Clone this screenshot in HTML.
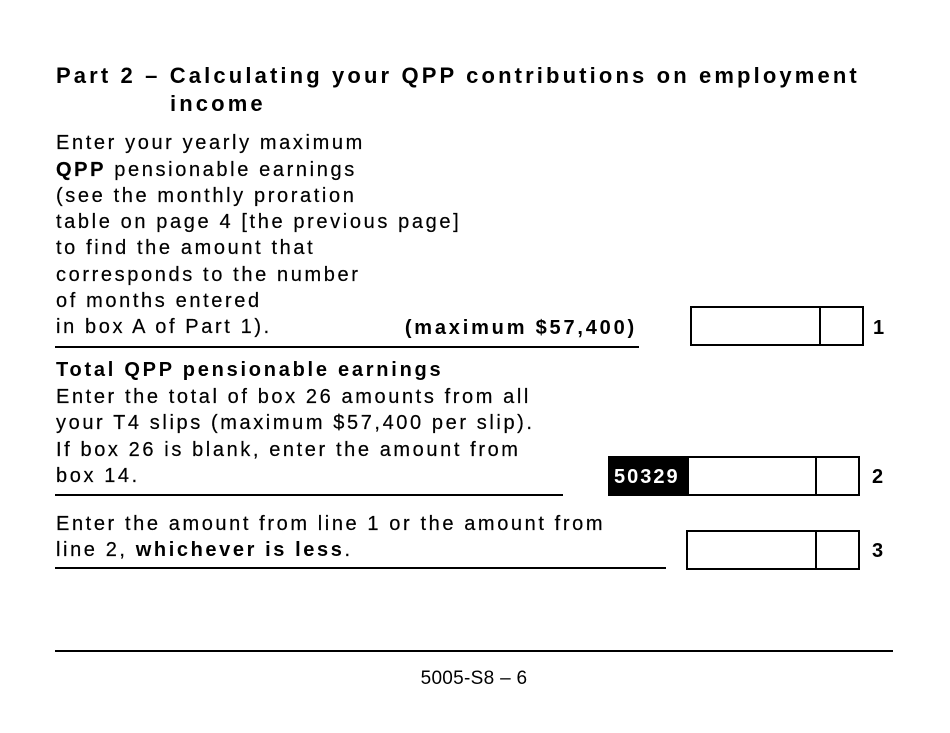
<!DOCTYPE html>
<html><head><meta charset="utf-8"><style>
html,body{margin:0;padding:0;background:#fff;}
svg{display:block;}
text{font-family:"Liberation Sans",Arial,sans-serif;fill:#000;}
.r{stroke:#000;stroke-width:0.2;}
</style></head><body>
<svg width="950" height="733" viewBox="0 0 950 733" xmlns="http://www.w3.org/2000/svg">
<rect width="950" height="733" fill="#fff"/>
<!-- Title -->
<text x="56" y="83" font-size="22" font-weight="bold" letter-spacing="3.13">Part 2 – Calculating your QPP contributions on employment</text>
<text x="170" y="111" font-size="22" font-weight="bold" letter-spacing="3.13">income</text>

<!-- Block 1 -->
<g font-size="20" letter-spacing="2.62" class="r">
<text x="56" y="149">Enter your yearly maximum</text>
<text x="56" y="176"><tspan font-weight="bold">QPP</tspan> pensionable earnings</text>
<text x="56" y="202">(see the monthly proration</text>
<text x="56" y="228">table on page 4 [the previous page]</text>
<text x="56" y="254">to find the amount that</text>
<text x="56" y="281">corresponds to the number</text>
<text x="56" y="307">of months entered</text>
<text x="56" y="333">in box A of Part 1).</text>
</g>
<text x="637" y="334" font-size="20" font-weight="bold" text-anchor="end" letter-spacing="2.8">(maximum $57,400)</text>
<rect x="55" y="346" width="584" height="2" fill="#000"/>
<rect x="691" y="307" width="172" height="38" fill="none" stroke="#000" stroke-width="2"/>
<rect x="819" y="307" width="2" height="38" fill="#000"/>
<text x="873" y="334" font-size="20" font-weight="bold">1</text>

<!-- Block 2 -->
<text x="56" y="376" font-size="20" font-weight="bold" letter-spacing="2.75">Total QPP pensionable earnings</text>
<g font-size="20" letter-spacing="2.6" class="r">
<text x="56" y="403">Enter the total of box 26 amounts from all</text>
<text x="56" y="429">your T4 slips (maximum $57,400 per slip).</text>
<text x="56" y="456">If box 26 is blank, enter the amount from</text>
<text x="56" y="482">box 14.</text>
</g>
<rect x="55" y="494" width="508" height="2" fill="#000"/>
<rect x="608" y="456" width="80" height="40" fill="#000"/>
<text x="614" y="483" font-size="20" font-weight="bold" letter-spacing="2" style="fill:#fff">50329</text>
<rect x="688" y="457" width="171" height="38" fill="none" stroke="#000" stroke-width="2"/>
<rect x="815" y="457" width="2" height="38" fill="#000"/>
<text x="872" y="483" font-size="20" font-weight="bold">2</text>

<!-- Block 3 -->
<g font-size="20" letter-spacing="2.6" class="r">
<text x="56" y="530">Enter the amount from line 1 or the amount from</text>
<text x="56" y="556">line 2, <tspan font-weight="bold" stroke-width="0">whichever is less</tspan>.</text>
</g>
<rect x="55" y="567" width="611" height="2" fill="#000"/>
<rect x="687" y="531" width="172" height="38" fill="none" stroke="#000" stroke-width="2"/>
<rect x="815" y="531" width="2" height="38" fill="#000"/>
<text x="872" y="557" font-size="20" font-weight="bold">3</text>

<!-- Footer -->
<rect x="55" y="650" width="838" height="2" fill="#000"/>
<text x="474" y="684" font-size="19" text-anchor="middle" letter-spacing="0.3">5005-S8 – 6</text>
</svg>
</body></html>
